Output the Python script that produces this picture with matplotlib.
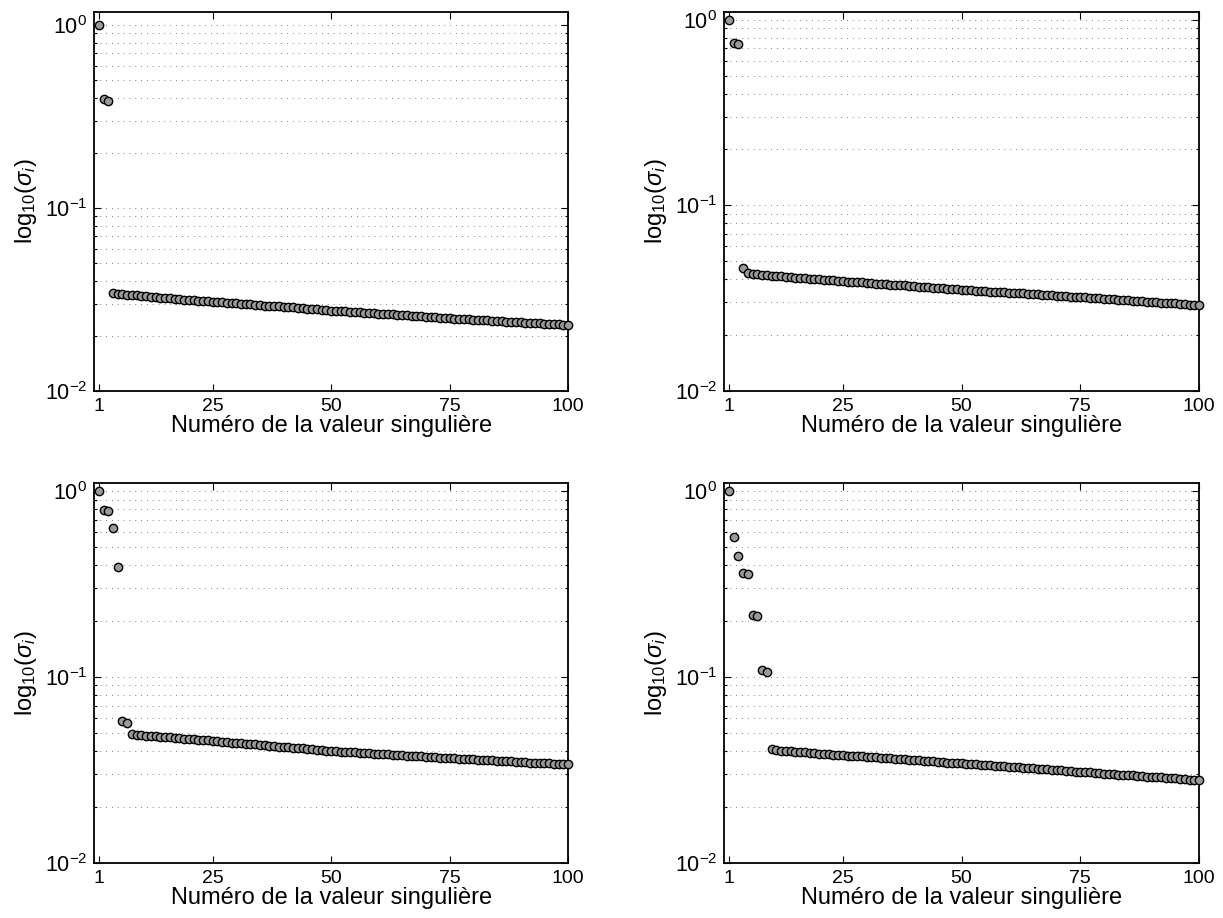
# Singular value spectra, four cases

import matplotlib
matplotlib.use('Agg')
import matplotlib.pyplot as plt
from matplotlib.ticker import LogLocator, NullFormatter

plt.rcParams['font.family'] = ['Liberation Sans', 'DejaVu Sans']
plt.rcParams['mathtext.fontset'] = 'custom'
plt.rcParams['mathtext.rm'] = 'Liberation Sans'
plt.rcParams['mathtext.it'] = 'Liberation Sans:italic'

# Singular value index
ranks = list(range(1, 101))

# Normalised singular values
sigma_top_left = [
    1.0, 0.392, 0.386, 0.0343, 0.0340, 0.0338, 0.0336, 0.0334, 0.0333, 0.0331,
    0.0329, 0.0328, 0.0326, 0.0324, 0.0323, 0.0321, 0.0319, 0.0318, 0.0316, 0.0315,
    0.0313, 0.0312, 0.0310, 0.0309, 0.0308, 0.0307, 0.0305, 0.0304, 0.0303, 0.0301,
    0.0300, 0.0299, 0.0297, 0.0296, 0.0295, 0.0293, 0.0292, 0.0291, 0.0290, 0.0288,
    0.0287, 0.0286, 0.0284, 0.0283, 0.0282, 0.0280, 0.0279, 0.0278, 0.0276, 0.0275,
    0.0274, 0.0273, 0.0272, 0.0271, 0.0270, 0.0269, 0.0268, 0.0267, 0.0266, 0.0265,
    0.0264, 0.0263, 0.0262, 0.0261, 0.0260, 0.0259, 0.0258, 0.0257, 0.0256, 0.0255,
    0.0254, 0.0253, 0.0252, 0.0250, 0.0249, 0.0248, 0.0247, 0.0247, 0.0246, 0.0245,
    0.0244, 0.0243, 0.0243, 0.0242, 0.0241, 0.0240, 0.0239, 0.0239, 0.0238, 0.0237,
    0.0236, 0.0235, 0.0235, 0.0234, 0.0233, 0.0232, 0.0231, 0.0231, 0.0230, 0.0229,
]

sigma_top_right = [
    1.0, 0.745, 0.738, 0.0459, 0.0433, 0.0427, 0.0424, 0.0422, 0.0420, 0.0418,
    0.0416, 0.0414, 0.0412, 0.0410, 0.0408, 0.0406, 0.0404, 0.0402, 0.0401, 0.0399,
    0.0397, 0.0395, 0.0394, 0.0392, 0.0390, 0.0388, 0.0387, 0.0385, 0.0384, 0.0382,
    0.0381, 0.0379, 0.0377, 0.0376, 0.0374, 0.0373, 0.0371, 0.0370, 0.0368, 0.0366,
    0.0365, 0.0363, 0.0362, 0.0360, 0.0359, 0.0357, 0.0356, 0.0354, 0.0352, 0.0351,
    0.0350, 0.0348, 0.0347, 0.0346, 0.0345, 0.0343, 0.0342, 0.0341, 0.0340, 0.0338,
    0.0337, 0.0336, 0.0335, 0.0333, 0.0332, 0.0331, 0.0330, 0.0328, 0.0327, 0.0326,
    0.0325, 0.0323, 0.0322, 0.0321, 0.0320, 0.0319, 0.0317, 0.0316, 0.0315, 0.0314,
    0.0313, 0.0311, 0.0310, 0.0309, 0.0308, 0.0307, 0.0305, 0.0304, 0.0303, 0.0302,
    0.0301, 0.0299, 0.0298, 0.0297, 0.0296, 0.0295, 0.0293, 0.0292, 0.0291, 0.0290,
]

sigma_bottom_left = [
    1.0, 0.790, 0.785, 0.636, 0.390, 0.0580, 0.0566, 0.0492, 0.0487, 0.0485,
    0.0482, 0.0480, 0.0478, 0.0476, 0.0474, 0.0472, 0.0470, 0.0468, 0.0466, 0.0463,
    0.0461, 0.0459, 0.0457, 0.0455, 0.0453, 0.0450, 0.0448, 0.0446, 0.0443, 0.0441,
    0.0439, 0.0437, 0.0435, 0.0433, 0.0431, 0.0429, 0.0427, 0.0424, 0.0422, 0.0420,
    0.0418, 0.0416, 0.0414, 0.0412, 0.0410, 0.0408, 0.0406, 0.0403, 0.0401, 0.0399,
    0.0398, 0.0396, 0.0395, 0.0394, 0.0392, 0.0391, 0.0390, 0.0388, 0.0387, 0.0385,
    0.0384, 0.0383, 0.0381, 0.0380, 0.0379, 0.0377, 0.0376, 0.0375, 0.0373, 0.0372,
    0.0370, 0.0369, 0.0368, 0.0366, 0.0365, 0.0364, 0.0363, 0.0362, 0.0361, 0.0360,
    0.0358, 0.0357, 0.0356, 0.0355, 0.0354, 0.0353, 0.0352, 0.0351, 0.0350, 0.0349,
    0.0348, 0.0346, 0.0345, 0.0344, 0.0343, 0.0342, 0.0341, 0.0340, 0.0339, 0.0338,
]

sigma_bottom_right = [
    1.0, 0.564, 0.447, 0.362, 0.358, 0.214, 0.212, 0.1086, 0.1064, 0.0409,
    0.0402, 0.0400, 0.0399, 0.0397, 0.0395, 0.0394, 0.0392, 0.0390, 0.0389, 0.0387,
    0.0385, 0.0384, 0.0382, 0.0380, 0.0379, 0.0377, 0.0376, 0.0375, 0.0373, 0.0372,
    0.0370, 0.0369, 0.0367, 0.0366, 0.0364, 0.0363, 0.0361, 0.0360, 0.0358, 0.0357,
    0.0355, 0.0354, 0.0352, 0.0351, 0.0349, 0.0348, 0.0346, 0.0345, 0.0343, 0.0342,
    0.0341, 0.0339, 0.0338, 0.0337, 0.0335, 0.0334, 0.0333, 0.0331, 0.0330, 0.0328,
    0.0327, 0.0326, 0.0324, 0.0323, 0.0322, 0.0320, 0.0319, 0.0318, 0.0316, 0.0315,
    0.0314, 0.0312, 0.0311, 0.0309, 0.0308, 0.0307, 0.0306, 0.0304, 0.0303, 0.0302,
    0.0301, 0.0300, 0.0298, 0.0297, 0.0296, 0.0295, 0.0294, 0.0292, 0.0291, 0.0290,
    0.0289, 0.0288, 0.0286, 0.0285, 0.0284, 0.0283, 0.0282, 0.0280, 0.0279, 0.0278,
]

x_ticks = [1, 25, 50, 75, 100]
x_label = 'Numéro de la valeur singulière'
y_label = r'log$_{10}$($\sigma_i$)'


def draw_panel(fig, rect, values, y_top):
    """
    One log-scale panel of singular values
    """
    ax = fig.add_axes(rect)
    ax.set_yscale('log')
    ax.plot(ranks, values, linestyle='none', marker='o', markersize=6.0,
            markerfacecolor='#9a9a9a', markeredgecolor='black',
            markeredgewidth=1.0, clip_on=False, zorder=3)

    ax.set_xlim(0, 100)
    ax.set_ylim(0.01, y_top)
    ax.set_xticks(x_ticks)
    ax.yaxis.set_major_locator(LogLocator(base=10, numticks=5))
    ax.yaxis.set_minor_locator(LogLocator(base=10, subs=range(2, 10), numticks=20))
    ax.yaxis.set_minor_formatter(NullFormatter())

    ax.grid(True, axis='y', which='both', color='#555555', linestyle=(0, (1, 6)),
            linewidth=0.6)
    ax.tick_params(which='both', direction='in', top=True, right=True, width=0.8)
    ax.tick_params(axis='x', labelsize=14)
    ax.tick_params(axis='y', labelsize=15.5)
    ax.tick_params(which='major', length=5, pad=5)
    ax.tick_params(which='minor', length=2.5)
    for spine in ax.spines.values():
        spine.set_linewidth(1.3)

    ax.set_xlabel(x_label, fontsize=17, labelpad=0)
    ax.set_ylabel(y_label, fontsize=17, labelpad=4)
    return ax


fig = plt.figure(figsize=(12.23, 9.18), dpi=100)

draw_panel(fig, [0.0769, 0.5741, 0.3876, 0.4129], sigma_top_left, 1.18)
draw_panel(fig, [0.5920, 0.5741, 0.3884, 0.4129], sigma_top_right, 1.1)
draw_panel(fig, [0.0769, 0.0602, 0.3876, 0.4133], sigma_bottom_left, 1.1)
draw_panel(fig, [0.5920, 0.0602, 0.3884, 0.4133], sigma_bottom_right, 1.1)

plt.savefig('out.png', dpi=100)
